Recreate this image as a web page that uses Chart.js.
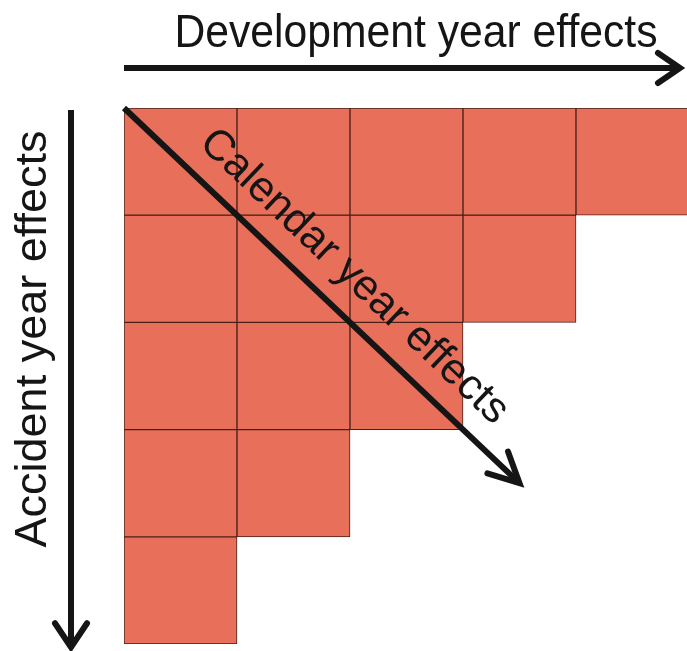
<!DOCTYPE html>
<html>
<head>
<meta charset="utf-8">
<script src="https://cdn.jsdelivr.net/npm/chart.js@4.4.1/dist/chart.umd.min.js"></script>
<style>
  html, body { margin: 0; padding: 0; background: #fff; overflow: hidden; }
  #wrap { position: absolute; left: 0; top: 0; width: 700px; height: 651px; }
</style>
</head>
<body>
<div id="wrap"><canvas id="triangle" width="700" height="651"></canvas></div>
<script>
// development years along the top, accident years down the side
const devYears = ['1', '2', '3', '4', '5'];
const accidentYears = ['1', '2', '3', '4', '5'];
// 1 = observed cell, null = future (empty)
const row1 = [1, 1, 1, 1, 1];
const row2 = [1, 1, 1, 1, null];
const row3 = [1, 1, 1, null, null];
const row4 = [1, 1, null, null, null];
const row5 = [1, null, null, null, null];
const rows = [row1, row2, row3, row4, row5];

const cellColor = '#e8705b';
const cellBorder = '#4a2019';
const inkColor = '#151515';
const fontFamily = '"Liberation Sans", Arial, Helvetica, sans-serif';

// arrows and labels drawn on top of the triangle
const annotations = {
    id: 'annotations',
    afterDatasetsDraw(chart) {
        const ctx = chart.ctx;
        const xs = chart.scales.x;
        const ys = chart.scales.y;
        const x0 = xs.left, y0 = ys.top;
        const colW = (xs.right - xs.left) / devYears.length;
        const rowH = (ys.bottom - ys.top) / accidentYears.length;

        ctx.save();
        ctx.strokeStyle = inkColor;
        ctx.fillStyle = inkColor;
        ctx.lineWidth = 6;

        function arrow(ax, ay, bx, by, headLen, headW) {
            const len = Math.hypot(bx - ax, by - ay);
            const ux = (bx - ax) / len, uy = (by - ay) / len;
            ctx.lineCap = 'butt';
            ctx.beginPath();
            ctx.moveTo(ax, ay);
            ctx.lineTo(bx - ux * 3, by - uy * 3);
            ctx.stroke();
            ctx.lineCap = 'round';
            ctx.lineJoin = 'miter';
            ctx.beginPath();
            ctx.moveTo(bx - ux * headLen - uy * headW, by - uy * headLen + ux * headW);
            ctx.lineTo(bx, by);
            ctx.lineTo(bx - ux * headLen + uy * headW, by - uy * headLen - ux * headW);
            ctx.stroke();
        }

        // development year arrow (top)
        arrow(x0, y0 - 40, x0 + colW * 4.92, y0 - 40, 22, 15);
        // accident year arrow (left)
        arrow(x0 - 53, y0 + 2, x0 - 53, y0 + rowH * 5.03, 24, 16);
        // calendar year arrow (diagonal, through the cell corners)
        const tipX = x0 + colW * 3.5, tipY = y0 + rowH * 3.5;
        arrow(x0, y0, tipX, tipY, 30, 15);

        // labels
        ctx.textBaseline = 'alphabetic';
        ctx.textAlign = 'center';
        ctx.font = '46px ' + fontFamily;
        ctx.fillText('Development year effects', x0 + 292, y0 - 61, 483);

        ctx.save();
        ctx.translate(x0 - 78, y0 + 231);
        ctx.rotate(-Math.PI / 2);
        ctx.font = '45px ' + fontFamily;
        ctx.fillText('Accident year effects', 0, 0, 417);
        ctx.restore();

        const dx = tipX - x0, dy = tipY - y0;
        const dl = Math.hypot(dx, dy);
        const ux = dx / dl, uy = dy / dl;
        const along = 283, off = 24;
        ctx.save();
        ctx.translate(x0 + ux * along + uy * off, y0 + uy * along - ux * off);
        ctx.rotate(Math.atan2(dy, dx));
        ctx.font = '43px ' + fontFamily;
        ctx.fillText('Calendar year effects', 0, 0, 410);
        ctx.restore();

        ctx.restore();
    }
};

const datasets = rows.map((values, i) => ({
    label: 'Accident year ' + accidentYears[i],
    data: values,
    backgroundColor: cellColor,
    borderColor: cellBorder,
    borderWidth: 1,
    borderSkipped: false,
    barPercentage: 1,
    categoryPercentage: 1
}));

new Chart(document.getElementById('triangle'), {
    type: 'bar',
    data: { labels: devYears, datasets: datasets },
    options: {
        responsive: false,
        animation: false,
        devicePixelRatio: 1,
        layout: { padding: { left: 124, top: 108, right: 11, bottom: 7 } },
        scales: {
            x: { stacked: true, display: false, grid: { display: false } },
            y: { stacked: true, display: false, reverse: true, min: 0, max: 5, grid: { display: false } }
        },
        plugins: {
            legend: { display: false },
            tooltip: { enabled: false }
        }
    },
    plugins: [annotations]
});
</script>
</body>
</html>
